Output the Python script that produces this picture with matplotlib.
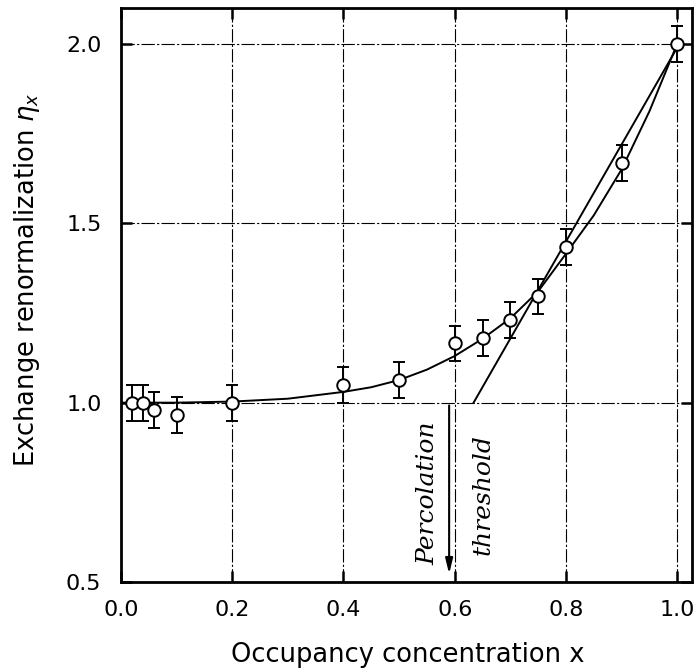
import matplotlib
matplotlib.use("Agg")
import numpy as np
from matplotlib import pyplot as plt

# measured points (occupancy x, renormalization eta_x, error)
conc = [0.02, 0.04, 0.06, 0.10, 0.20, 0.40, 0.50, 0.60, 0.65, 0.70, 0.75, 0.80, 0.90, 1.00]
eta = [1.00, 1.00, 0.98, 0.965, 1.00, 1.048, 1.064, 1.165, 1.18, 1.23, 1.296, 1.433, 1.667, 2.00]
err = [0.05, 0.05, 0.05, 0.05, 0.05, 0.05, 0.05, 0.048, 0.05, 0.05, 0.05, 0.05, 0.05, 0.05]

# fitted curve
curve_x = [0.0, 0.05, 0.10, 0.20, 0.30, 0.40, 0.45, 0.50, 0.55, 0.60, 0.65,
           0.70, 0.75, 0.80, 0.85, 0.90, 0.95, 1.00]
curve_y = [1.0, 1.0, 1.0, 1.003, 1.011, 1.030, 1.043, 1.063, 1.092, 1.13, 1.178,
           1.235, 1.31, 1.415, 1.522, 1.650, 1.812, 2.00]

# straight asymptote from the threshold
line_x = [0.634, 1.00]
line_y = [1.00, 1.99]

arrow_x = 0.59
xticks = [0.0, 0.2, 0.4, 0.6, 0.8, 1.0]
yticks = [0.5, 1.0, 1.5, 2.0]

fig = plt.figure(figsize=(6.95, 6.69), dpi=100)
ax = fig.add_axes([0.174, 0.130, 0.822, 0.858])

ax.set_xlim(0.0, 1.027)
ax.set_ylim(0.5, 2.1)

# grid
for gx in xticks[1:]:
    ax.axvline(gx, color="black", lw=0.8, ls=(0, (12, 2, 2, 2)), zorder=1)
for gy in yticks[1:]:
    ax.axhline(gy, color="black", lw=0.8, ls=(0, (12, 2, 2, 2)), zorder=1)

ax.plot(curve_x, curve_y, color="black", lw=1.4, zorder=3)
ax.plot(line_x, line_y, color="black", lw=1.4, zorder=3)

ax.errorbar(conc, eta, yerr=err, fmt="o", ms=9, mfc="white", mec="black",
            mew=1.4, ecolor="black", elinewidth=1.4, capsize=4.5, capthick=2,
            zorder=4)

ax.annotate("", xy=(arrow_x, 0.515), xytext=(arrow_x, 1.0),
            arrowprops=dict(arrowstyle="-|>,head_length=0.9,head_width=0.22",
                            color="black", lw=1.5))

ax.text(0.552, 0.747, "Percolation", rotation=90, ha="center", va="center",
        fontsize=18, style="italic", family="DejaVu Serif")
ax.text(0.652, 0.745, "threshold", rotation=90, ha="center", va="center",
        fontsize=18, style="italic", family="DejaVu Serif")

ax.set_xticks(xticks)
ax.set_xticklabels(["0.0", "0.2", "0.4", "0.6", "0.8", "1.0"])
ax.set_yticks(yticks)
ax.set_yticklabels(["0.5", "1.0", "1.5", "2.0"])
ax.tick_params(direction="in", length=8, width=1.8, top=True, right=True,
               labelsize=16)
ax.tick_params(axis="x", pad=13)
ax.tick_params(axis="y", pad=14)
for s in ax.spines.values():
    s.set_linewidth(2)

ax.set_xlabel("Occupancy concentration x", fontsize=18.5)
ax.set_ylabel(r"Exchange renormalization $\eta_x$", fontsize=18.5)
ax.xaxis.set_label_coords(0.502, -0.104)
ax.yaxis.set_label_coords(-0.138, 0.526)

fig.savefig("out.png", dpi=100)
